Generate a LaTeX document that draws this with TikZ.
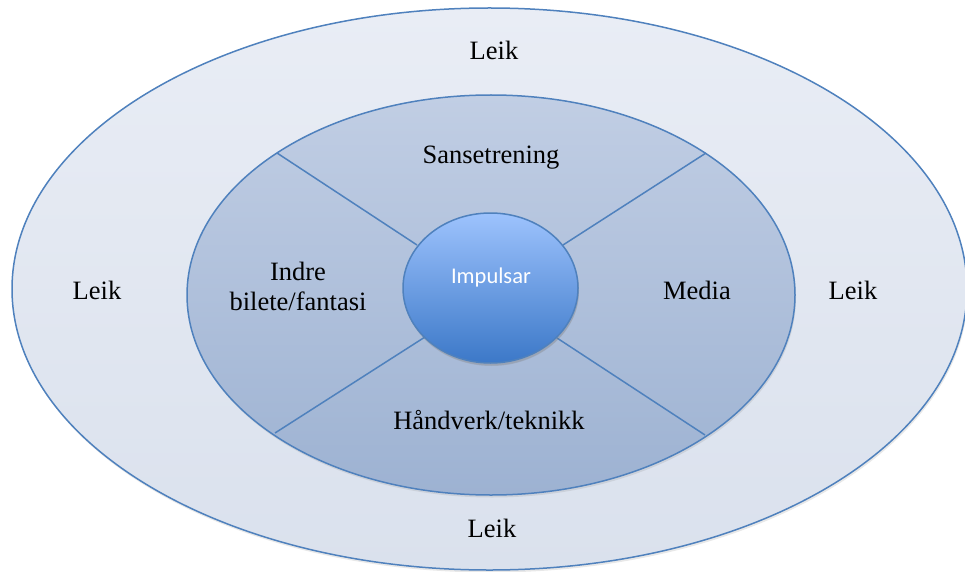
\documentclass[tikz,border=0pt]{standalone}
\usepackage{fontspec}
\setmainfont{Liberation Serif}
\newfontfamily\calib{Carlito}
\usetikzlibrary{shapes.geometric,shadows}
\definecolor{edge}{HTML}{4F81BD}
\definecolor{outtop}{HTML}{E9EDF5}
\definecolor{outbot}{HTML}{DAE1ED}
\definecolor{midtop}{HTML}{C1CEE4}
\definecolor{midbot}{HTML}{9DB2D2}
\definecolor{intop}{HTML}{9DC3FD}
\definecolor{inbot}{HTML}{3C78C8}
\tikzset{
  ring/.style={ellipse, draw=edge, line width=1.5pt, inner sep=0pt,
    drop shadow={opacity=0.18, shadow xshift=1pt, shadow yshift=-2.5pt}},
  lbl/.style={font=\fontsize{26.5}{30}\selectfont, text=black, align=center, inner sep=0pt},
  divider/.style={draw=edge, line width=1.5pt}
}
\begin{document}
\begin{tikzpicture}[x=1pt,y=-1pt]
\useasboundingbox (0,0) rectangle (965,572);
\node[ring, top color=outtop, bottom color=outbot, minimum width=955pt, minimum height=562pt] (outer) at (489.5,289) {};
\node[ring, top color=midtop, bottom color=midbot, minimum width=608pt, minimum height=400pt] (mid) at (491,295) {};
\coordinate (m1) at (277,153);
\coordinate (m2) at (706,153);
\coordinate (m3) at (275,433);
\coordinate (m4) at (705,435);
\coordinate (c1) at (417,245);
\coordinate (c2) at (563,245);
\coordinate (c3) at (425,337);
\coordinate (c4) at (557,338);
\draw[divider] (m1) -- (c1);
\draw[divider] (m2) -- (c2);
\draw[divider] (m3) -- (c3);
\draw[divider] (m4) -- (c4);
\node[ring, top color=intop, bottom color=inbot, minimum width=175pt, minimum height=150pt,
  drop shadow={opacity=0.25, shadow xshift=1pt, shadow yshift=-3pt}] (inner) at (490.5,288) {};
\node[font=\calib\fontsize{22.5}{26}\selectfont, text=white, inner sep=0pt] (imp) at (491,277) {Impulsar};
\node[lbl] (ltop) at (494,50) {Leik};
\node[lbl] (lleft) at (97,290) {Leik};
\node[lbl] (lright) at (853,290) {Leik};
\node[lbl] (lbot) at (492,528) {Leik};
\node[lbl] (sans) at (491,158) {Sansetrening};
\node[lbl] (indre) at (298,286) {Indre\\bilete/fantasi};
\node[lbl] (media) at (697,290) {Media};
\node[lbl] (hand) at (489,420) {Håndverk/teknikk};
\end{tikzpicture}
\end{document}
